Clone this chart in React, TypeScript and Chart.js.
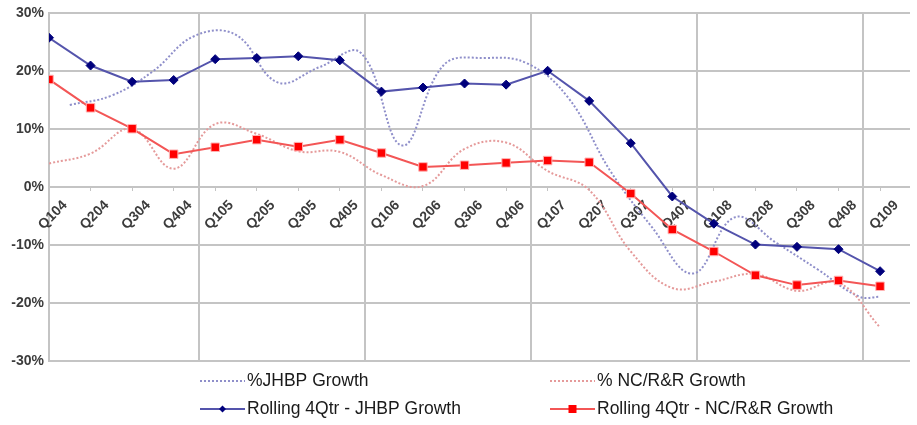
import React, { useEffect, useRef } from 'react';
import { Chart, registerables } from 'chart.js';

Chart.register(...registerables);

const categories = ['Q104', 'Q204', 'Q304', 'Q404', 'Q105', 'Q205', 'Q305', 'Q405', 'Q106', 'Q206', 'Q306', 'Q406', 'Q107', 'Q207', 'Q307', 'Q407', 'Q108', 'Q208', 'Q308', 'Q408', 'Q109'];
const jhbpGrowth = [14.2, 15.8, 20.0, 26.1, 26.3, 18.1, 20.7, 23.2, 7.2, 21.1, 22.3, 21.4, 15.4, 2.9, -6.8, -14.9, -5.2, -9.6, -14.2, -18.9, -18.9];
const ncrrGrowth = [4.1, 5.8, 10.1, 3.2, 10.9, 9.2, 6.2, 6.1, 2.1, 0.2, 6.6, 7.7, 2.8, -0.5, -11.1, -17.4, -16.3, -15.0, -17.9, -16.5, -24.2];
const rollingJhbp = [25.8, 21.0, 18.2, 18.5, 22.1, 22.3, 22.6, 21.9, 16.5, 17.2, 17.9, 17.7, 20.1, 14.9, 7.6, -1.6, -6.3, -9.9, -10.3, -10.7, -14.5];
const rollingNcrr = [18.6, 13.7, 10.1, 5.7, 6.9, 8.2, 7.0, 8.2, 5.9, 3.5, 3.8, 4.2, 4.6, 4.3, -1.1, -7.3, -11.1, -15.2, -16.9, -16.1, -17.1];
const yTicks = [-30, -20, -10, 0, 10, 20, 30];
const seriesLabels = ['%JHBP Growth', '% NC/R&R Growth', 'Rolling 4Qtr - JHBP Growth', 'Rolling 4Qtr - NC/R&R Growth'];

const GRID = '#c4c4c4';
const TEXT = '#3c3c3c';
const FONT = '"Liberation Sans", Arial, sans-serif';

const yearLinesPlugin = {
  id: 'yearLines',
  beforeDatasetsDraw(chart: any) {
    const { ctx, chartArea, scales } = chart;
    ctx.save();
    ctx.strokeStyle = GRID;
    ctx.lineWidth = 2;
    for (let i = 1; i < categories.length; i++) {
      if (categories[i].slice(2) !== categories[i - 1].slice(2)) {
        const px = Math.round(scales.x.getPixelForValue(i - 0.4));
        ctx.beginPath();
        ctx.moveTo(px, chartArea.top);
        ctx.lineTo(px, chartArea.bottom);
        ctx.stroke();
      }
    }
    // category labels at zero line
    const y0 = scales.y.getPixelForValue(0);
    ctx.fillStyle = TEXT;
    ctx.font = `bold 14px ${FONT}`;
    ctx.textAlign = 'center';
    ctx.textBaseline = 'middle';
    categories.forEach((c, i) => {
      const px = scales.x.getPixelForValue(i);
      ctx.save();
      ctx.translate(px + 4, y0 + 28);
      ctx.rotate(-Math.PI / 4);
      ctx.fillText(c, 0, 0);
      ctx.restore();
    });
    ctx.restore();
  },
};

const legendPlugin = {
  id: 'customLegend',
  afterDraw(chart: any) {
    const { ctx } = chart;
    const colX = [200, 550];
    const rowY = [381, 409];
    ctx.save();
    ctx.font = `17.5px ${FONT}`;
    ctx.textBaseline = 'middle';
    ctx.textAlign = 'left';
    chart.data.datasets.forEach((ds: any, i: number) => {
      const x = colX[i % 2];
      const y = rowY[Math.floor(i / 2)];
      ctx.save();
      ctx.strokeStyle = ds.borderColor;
      ctx.lineWidth = ds.borderWidth;
      ctx.setLineDash(ds.borderDash || []);
      ctx.beginPath();
      ctx.moveTo(x, y);
      ctx.lineTo(x + 45, y);
      ctx.stroke();
      ctx.setLineDash([]);
      if (ds.pointRadius > 0) {
        const cx = x + 22.5;
        ctx.fillStyle = ds.pointBackgroundColor;
        ctx.beginPath();
        if (ds.pointStyle === 'rectRot') {
          const r = 3.5;
          ctx.moveTo(cx, y - r);
          ctx.lineTo(cx + r, y);
          ctx.lineTo(cx, y + r);
          ctx.lineTo(cx - r, y);
          ctx.closePath();
        } else {
          ctx.rect(cx - 4, y - 4, 8, 8);
        }
        ctx.fill();
      }
      ctx.restore();
      ctx.fillStyle = '#1a1a1a';
      ctx.fillText(ds.label, x + 47, y);
    });
    ctx.restore();
  },
};

export default function App() {
  const ref = useRef<HTMLCanvasElement>(null);
  useEffect(() => {
    document.body.style.margin = '0';
    const canvas = ref.current!;
    const lastIdx = categories.length - 1;
    const chart = new Chart(canvas, {
      type: 'line',
      data: {
        datasets: [
          {
            label: seriesLabels[0],
            data: jhbpGrowth.map((v, i) => ({ x: Math.min(i + 0.5, lastIdx), y: v })),
            borderColor: '#8f8fca',
            borderWidth: 2,
            borderDash: [2, 2],
            pointRadius: 0,
            tension: 0.4,
            order: 3,
          },
          {
            label: seriesLabels[1],
            data: ncrrGrowth.map((v, i) => ({ x: i, y: v })),
            borderColor: '#e59a9a',
            borderWidth: 2,
            borderDash: [2, 2],
            pointRadius: 0,
            tension: 0.4,
            order: 2,
          },
          {
            label: seriesLabels[2],
            data: rollingJhbp.map((v, i) => ({ x: i, y: v })),
            borderColor: '#5454ac',
            borderWidth: 2,
            pointStyle: 'rectRot',
            pointRadius: 4.5,
            pointBackgroundColor: '#00007c',
            pointBorderColor: '#00007c',
            pointBorderWidth: 1,
            tension: 0,
            order: 1,
          },
          {
            label: seriesLabels[3],
            data: rollingNcrr.map((v, i) => ({ x: i, y: v })),
            borderColor: '#f35656',
            borderWidth: 2,
            pointStyle: 'rect',
            pointRadius: 6,
            pointBackgroundColor: '#ff0000',
            pointBorderColor: '#ffb4b4',
            pointBorderWidth: 1,
            tension: 0,
            order: 0,
          },
        ] as any,
      },
      options: {
        animation: false,
        responsive: false,
        layout: { padding: { top: 12, bottom: 64, left: 0, right: 0 } },
        plugins: { legend: { display: false }, tooltip: { enabled: false } },
        scales: {
          x: {
            type: 'linear',
            min: 0,
            max: lastIdx + 0.72,
            position: { y: 0 } as any,
            afterBuildTicks: (s: any) => {
              s.ticks = categories.map((_, i) => ({ value: i }));
            },
            ticks: { display: false },
            grid: { drawOnChartArea: false, drawTicks: true, tickLength: 4, color: GRID, lineWidth: 1 },
            border: { display: false },
          },
          y: {
            min: -30,
            max: 30,
            afterBuildTicks: (s: any) => {
              s.ticks = yTicks.map((v) => ({ value: v }));
            },
            afterFit: (s: any) => {
              s.width = 49;
            },
            ticks: {
              callback: (v: any) => `${v}%`,
              font: { family: FONT, size: 14, weight: 'bold' },
              color: TEXT,
              padding: 5,
            },
            grid: { color: GRID, lineWidth: 2, drawTicks: false },
            border: { color: GRID, width: 2 },
          },
        },
      } as any,
      plugins: [yearLinesPlugin, legendPlugin],
    });
    return () => chart.destroy();
  }, []);
  return <canvas ref={ref} width={917} height={425} style={{ display: 'block' }} />;
}
